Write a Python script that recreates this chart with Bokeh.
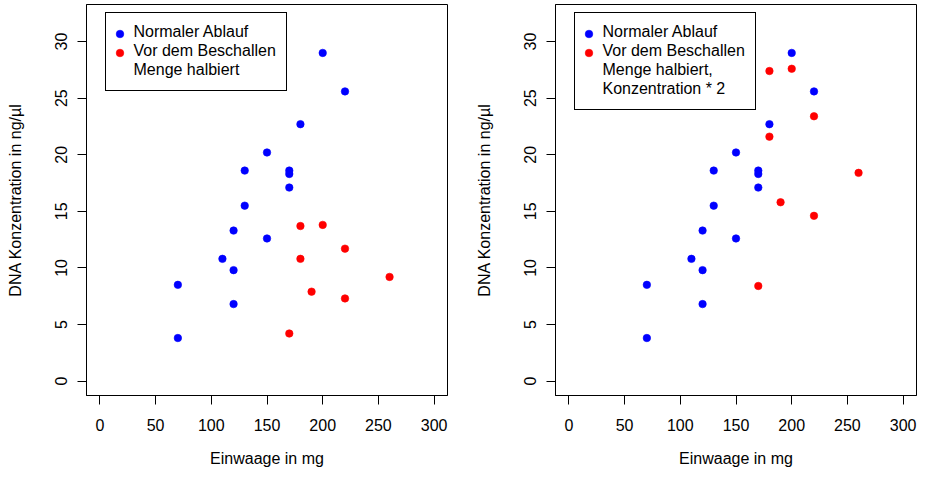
from bokeh.plotting import figure
from bokeh.models import Range1d, FixedTicker, Legend, LegendItem
from bokeh.layouts import row
from bokeh.embed import file_html
from bokeh.resources import INLINE

# ---------------- data ----------------
normal_x = [70, 70, 110, 120, 120, 120, 130, 130, 150, 150, 170, 170, 170, 180, 200, 220]
normal_y = [8.5, 3.8, 10.8, 13.3, 9.8, 6.8, 18.6, 15.5, 20.2, 12.6, 18.6, 18.3, 17.1, 22.7, 29.0, 25.6]
halved_x = [170, 180, 180, 190, 200, 220, 220, 260]
halved_y_left = [4.2, 13.7, 10.8, 7.9, 13.8, 11.7, 7.3, 9.2]
halved_y_right = [8.4, 27.4, 21.6, 15.8, 27.6, 23.4, 14.6, 18.4]

x_ticks = [0, 50, 100, 150, 200, 250, 300]
y_ticks = [0, 5, 10, 15, 20, 25, 30]
xlim = (0, 300)
ylim = (0, 32)
x_title = "Einwaage in mg"
y_title = "DNA Konzentration in ng/µl"
legend_left = ["Normaler Ablauf", "Vor dem Beschallen", "Menge halbiert"]
legend_right = ["Normaler Ablauf", "Vor dem Beschallen", "Menge halbiert,", "Konzentration * 2"]

# ---------------- style ----------------
FONT = "Liberation Sans"
FS = "16px"
BLUE = "#0000FF"
RED = "#FF0000"
H = 469
FRAME_W = 361
BORDER_TOP = 4
BORDER_BOTTOM = 70
FRAME_H = H - BORDER_TOP - BORDER_BOTTOM


def ext(lim):
    d = (lim[1] - lim[0]) * 0.04
    return Range1d(lim[0] - d, lim[1] + d)


def make_panel(hy, labels, border_left, border_right):
    p = figure(width=border_left + FRAME_W + border_right, height=H,
               x_range=ext(xlim), y_range=ext(ylim),
               output_backend="svg", toolbar_location=None,
               min_border_left=border_left, min_border_right=border_right,
               min_border_top=BORDER_TOP, min_border_bottom=BORDER_BOTTOM)
    p.xgrid.visible = False
    p.ygrid.visible = False
    p.outline_line_color = "black"
    p.outline_line_width = 1
    p.outline_line_alpha = 1
    p.background_fill_color = "white"
    p.border_fill_color = "white"

    for ax, ticks in ((p.xaxis[0], x_ticks), (p.yaxis[0], y_ticks)):
        ax.ticker = FixedTicker(ticks=ticks)
        ax.axis_line_color = "black"
        ax.major_tick_line_color = "black"
        ax.major_tick_out = 9
        ax.major_tick_in = 0
        ax.minor_tick_line_color = None
        ax.major_label_text_font = FONT
        ax.major_label_text_font_size = FS
        ax.major_label_text_color = "black"
        ax.axis_label_text_font = FONT
        ax.axis_label_text_font_size = FS
        ax.axis_label_text_font_style = "normal"
        ax.axis_label_text_color = "black"

    p.xaxis.axis_label = x_title
    p.yaxis.axis_label = y_title
    p.xaxis.major_label_standoff = 14
    p.xaxis.axis_label_standoff = 16
    p.yaxis.major_label_standoff = 10
    p.yaxis.major_label_orientation = "parallel"
    p.yaxis.axis_label_standoff = 29

    rb = p.scatter(normal_x, normal_y, size=7.5, fill_color=BLUE, line_color=BLUE, line_width=0.6)
    rr = p.scatter(halved_x, hy, size=7.5, fill_color=RED, line_color=RED, line_width=0.6)

    n = len(labels)
    leg_h = 20 + 19 * n
    legA = Legend(items=[LegendItem(label=t, renderers=[]) for t in labels],
                  location=(18.5, FRAME_H - 13.5 - leg_h),
                  padding=10, spacing=0, margin=0,
                  glyph_width=10, glyph_height=19, label_height=19, label_standoff=8,
                  label_text_font=FONT, label_text_font_size=FS, label_text_color="black",
                  border_line_color="black", border_line_width=1, border_line_alpha=1,
                  background_fill_color="white", background_fill_alpha=1)
    legB = Legend(items=[LegendItem(label="", renderers=[rb]), LegendItem(label="", renderers=[rr])],
                  location=(23.5, FRAME_H - 23.5 - 38),
                  padding=0, spacing=0, margin=0,
                  glyph_width=19, glyph_height=19, label_height=19, label_standoff=0,
                  label_text_font_size=FS,
                  border_line_color=None, background_fill_alpha=0)
    p.add_layout(legA, "center")
    p.add_layout(legB, "center")
    return p


left = make_panel(halved_y_left, legend_left, 86, 20)
right = make_panel(halved_y_right, legend_right, 88, 1)

layout = row(left, right, spacing=0)
open("out.html", "w").write(file_html(layout, INLINE))
